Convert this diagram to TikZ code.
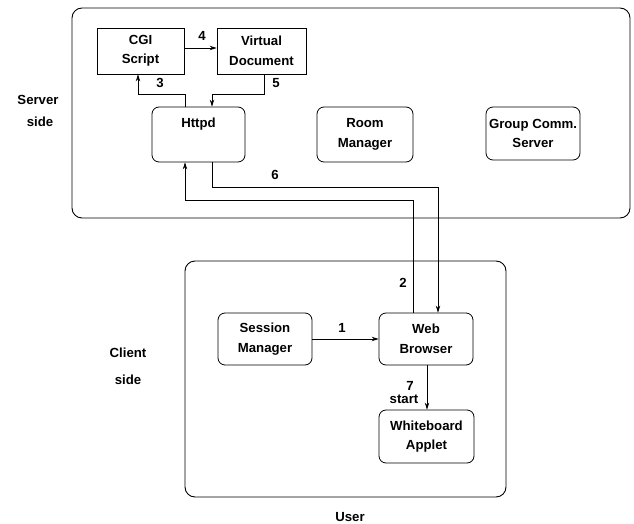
\documentclass[tikz,border=0pt]{standalone}
\usepackage{fontspec}
\setmainfont{Liberation Sans}
\usetikzlibrary{arrows.meta}
\begin{document}
\begin{tikzpicture}[x=1pt,y=-1pt,
  every node/.style={font=\fontsize{13.2}{19.5}\selectfont\bfseries, align=center, inner sep=0pt},
  sq/.style={draw, line width=0.8pt, rectangle},
  rb/.style={draw, line width=0.8pt, rectangle, rounded corners=7pt},
  con/.style={line width=0.8pt, -{Stealth[length=7pt,width=4.5pt]}},
  frame/.style={draw, line width=0.9pt, rounded corners=10pt}]
\useasboundingbox (0,0) rectangle (634,524);
\draw[frame] (72,8) rectangle (630,218);
\draw[frame] (185,261) rectangle (506,497);

\node[sq, minimum width=87pt, minimum height=46pt] (cgi) at (140.5,51) {CGI\\Script};
\node[sq, minimum width=89pt, minimum height=46pt] (vd) at (261.5,51) {Virtual\\Document};
\node[rb, minimum width=93pt, minimum height=55pt] (httpd) at (198.5,134.5) {Httpd\\[4pt]};
\node[rb, minimum width=96pt, minimum height=55pt] (room) at (365,134.5) {Room\\Manager};
\node[rb, minimum width=94pt, minimum height=53pt] (group) at (533,133.5) {Group Comm.\\Server};
\node[rb, minimum width=94pt, minimum height=52pt] (sess) at (265,339) {Session\\Manager};
\node[rb, minimum width=94pt, minimum height=52pt] (web) at (426,339) {Web\\Browser};
\node[rb, minimum width=95pt, minimum height=53pt] (wa) at (426.5,436.5) {Whiteboard\\Applet};

\draw[con] (cgi.east |- 0,48) -- (vd.west |- 0,48);
\draw[con] (httpd.north -| 185,0) |- (138,94) -- (cgi.south -| 138,0);
\draw[con] (vd.south -| 264,0) |- (212,94) -- (httpd.north -| 212,0);
\draw[con] (httpd.south -| 212,0) |- (438,187) -- (web.north -| 438,0);
\draw[con] (web.north -| 413,0) |- (185,200) -- (httpd.south -| 185,0);
\draw[con] (sess.east) -- (web.west);
\draw[con] (web.south -| 427,0) -- (wa.north -| 427,0);

\node (l4) at (202,36) {4};
\node (l3) at (160,83) {3};
\node (l5) at (276,83) {5};
\node (l6) at (275,175) {6};
\node (l2) at (403,283) {2};
\node (l1) at (342,328) {1};
\node (l7) at (410,386) {7};
\node (lstart) at (404,399) {start};
\node (user) at (350,517) {User};
\node (srv1) at (38,100) {Server};
\node (srv2) at (40,122) {side};
\node (cli1) at (128,353) {Client};
\node (cli2) at (128,380) {side};
\end{tikzpicture}
\end{document}
